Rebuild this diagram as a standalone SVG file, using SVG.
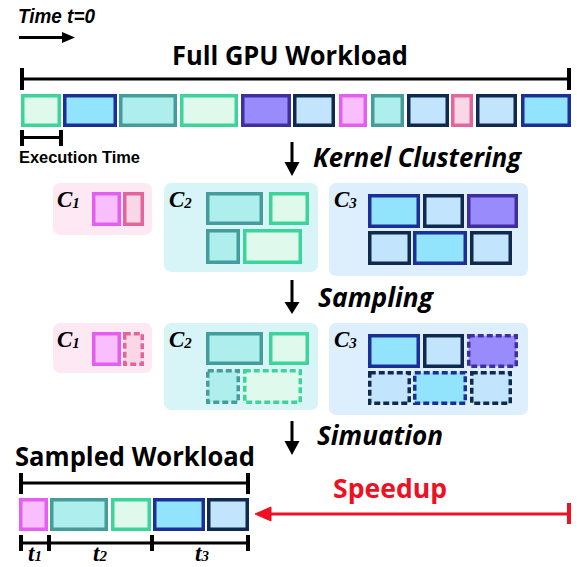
<svg xmlns="http://www.w3.org/2000/svg" width="577" height="567" viewBox="0 0 577 567">
  <defs>
    <style>
      .blk { stroke-width: 3.5; }
      .dash { stroke-dasharray: 6 3; }
      .g { fill: #dffaec; stroke: #3dd49b; }
      .n { fill: #92e4fd; stroke: #1b2f98; }
      .t { fill: #aeeeec; stroke: #449c9b; }
      .p { fill: #9a8bfc; stroke: #3f2f9e; }
      .d { fill: #c3e4fd; stroke: #10294e; }
      .m { fill: #f9befd; stroke: #e45ef0; }
      .k { fill: #f9d7e7; stroke: #e2659c; }
      .ln { stroke: #000; stroke-width: 3; fill: none; }
      .tk { stroke: #000; stroke-width: 4; }
      .title { font-family: "Open Sans", "Liberation Sans", sans-serif; font-weight: 700; font-size: 27px; fill: #000; }
      .step { font-family: "Open Sans", "Liberation Sans", sans-serif; font-weight: 700; font-style: italic; font-size: 26px; fill: #000; }
      .cond { font-family: "Liberation Sans", "Open Sans", sans-serif; font-weight: bold; fill: #000; }
      .cl { font-family: "Liberation Serif", "DejaVu Serif", serif; font-weight: bold; font-style: italic; font-size: 23px; fill: #000; }
      .sub { font-size: 15px; }
      .c1bg { fill: #fde8f3; }
      .c2bg { fill: #d7f5f6; }
      .c3bg { fill: #ddeffd; }
      .red { stroke: #ee1023; fill: #ee1023; }
    </style>
  </defs>

  <!-- time direction -->
  <g id="time-axis">
    <text class="cond" x="18" y="23" font-size="20" font-style="italic" textLength="77" lengthAdjust="spacingAndGlyphs">Time t=0</text>
    <line class="ln" x1="19" y1="37.5" x2="64" y2="37.5"/>
    <polygon points="62,32 75,37.5 62,43" fill="#000"/>
  </g>

  <!-- full workload -->
  <g id="full-workload">
    <text class="title" x="172" y="65" textLength="236" lengthAdjust="spacingAndGlyphs">Full GPU Workload</text>
    <line class="ln" x1="21" y1="79" x2="569" y2="79"/>
    <line class="tk" x1="22" y1="68" x2="22" y2="90"/>
    <line class="tk" x1="569" y1="68" x2="569" y2="90"/>
    <rect class="blk g" x="22.75" y="95.75" width="36.5" height="29.5"/>
    <rect class="blk n" x="64.75" y="95.75" width="50.5" height="29.5"/>
    <rect class="blk t" x="120.75" y="95.75" width="54.5" height="29.5"/>
    <rect class="blk g" x="181.75" y="95.75" width="54.5" height="29.5"/>
    <rect class="blk p" x="242.75" y="95.75" width="46.5" height="29.5"/>
    <rect class="blk d" x="294.75" y="95.75" width="38.5" height="29.5"/>
    <rect class="blk m" x="340.75" y="95.75" width="24.5" height="29.5"/>
    <rect class="blk t" x="372.75" y="95.75" width="29.5" height="29.5"/>
    <rect class="blk d" x="408.75" y="95.75" width="38.5" height="29.5"/>
    <rect class="blk k" x="452.75" y="95.75" width="18.5" height="29.5"/>
    <rect class="blk d" x="477.75" y="95.75" width="37.5" height="29.5"/>
    <rect class="blk n" x="522.75" y="95.75" width="46.5" height="29.5"/>
  </g>

  <g id="execution-time">
    <line class="ln" x1="21" y1="137.5" x2="62" y2="137.5"/>
    <line class="tk" x1="22" y1="130" x2="22" y2="146"/>
    <line class="tk" x1="61" y1="130" x2="61" y2="146"/>
    <text class="cond" x="19" y="163" font-size="16" textLength="121" lengthAdjust="spacingAndGlyphs">Execution Time</text>
  </g>

  <!-- step arrows -->
  <g id="connectors">
    <line class="ln" x1="292" y1="142" x2="292" y2="164"/>
    <polygon points="284.5,162 299.5,162 292,176" fill="#000"/>
    <line class="ln" x1="292" y1="280" x2="292" y2="304"/>
    <polygon points="284.5,302 299.5,302 292,314" fill="#000"/>
    <line class="ln" x1="292" y1="421" x2="292" y2="443"/>
    <polygon points="284.5,441 299.5,441 292,455" fill="#000"/>
  </g>
  <text class="step" x="313" y="167" textLength="208" lengthAdjust="spacingAndGlyphs">Kernel Clustering</text>
  <text class="step" x="318" y="307" textLength="115" lengthAdjust="spacingAndGlyphs">Sampling</text>
  <text class="step" x="317" y="445" textLength="126" lengthAdjust="spacingAndGlyphs">Simuation</text>

  <!-- clusters -->
  <g id="cluster-c1">
    <rect class="c1bg" x="53" y="183" width="99" height="52" rx="7"/>
    <text class="cl" x="57" y="207">C<tspan class="sub" dy="1">1</tspan></text>
    <rect class="blk m" x="93.75" y="193.75" width="25.5" height="30.5"/>
    <rect class="blk k" x="124.75" y="193.75" width="17.5" height="30.5"/>
  </g>
  <g id="cluster-c2">
    <rect class="c2bg" x="164" y="183" width="154" height="89" rx="7"/>
    <text class="cl" x="169" y="207">C<tspan class="sub" dy="1">2</tspan></text>
    <rect class="blk t" x="207.75" y="193.75" width="53.5" height="29.5"/>
    <rect class="blk g" x="270.75" y="193.75" width="36.5" height="29.5"/>
    <rect class="blk t" x="207.75" y="230.75" width="30.5" height="31.5"/>
    <rect class="blk g" x="244.75" y="230.75" width="55.5" height="31.5"/>
  </g>
  <g id="cluster-c3">
    <rect class="c3bg" x="329" y="183" width="199" height="93" rx="7"/>
    <text class="cl" x="334" y="207">C<tspan class="sub" dy="1">3</tspan></text>
    <rect class="blk n" x="369.75" y="195.75" width="48.5" height="30.5"/>
    <rect class="blk d" x="424.75" y="195.75" width="37.5" height="30.5"/>
    <rect class="blk p" x="468.75" y="195.75" width="47.5" height="30.5"/>
    <rect class="blk d" x="369.75" y="232.75" width="39.5" height="30.5"/>
    <rect class="blk n" x="414.75" y="232.75" width="50.5" height="30.5"/>
    <rect class="blk d" x="471.75" y="232.75" width="38.5" height="30.5"/>
  </g>

  <!-- sampled clusters (dashed = skipped) -->
  <g id="sampled-c1" transform="translate(0,140)">
    <rect class="c1bg" x="53" y="183" width="99" height="50" rx="7"/>
    <text class="cl" x="57" y="207">C<tspan class="sub" dy="1">1</tspan></text>
    <rect class="blk m" x="93.75" y="193.75" width="25.5" height="30.5"/>
    <rect class="blk k dash" x="124.75" y="193.75" width="17.5" height="30.5"/>
  </g>
  <g id="sampled-c2" transform="translate(0,140)">
    <rect class="c2bg" x="164" y="183" width="154" height="87" rx="7"/>
    <text class="cl" x="169" y="207">C<tspan class="sub" dy="1">2</tspan></text>
    <rect class="blk t" x="207.75" y="193.75" width="53.5" height="29.5"/>
    <rect class="blk g" x="270.75" y="193.75" width="36.5" height="29.5"/>
    <rect class="blk t dash" x="207.75" y="230.75" width="30.5" height="31.5"/>
    <rect class="blk g dash" x="244.75" y="230.75" width="55.5" height="31.5"/>
  </g>
  <g id="sampled-c3" transform="translate(0,140)">
    <rect class="c3bg" x="329" y="183" width="199" height="92" rx="7"/>
    <text class="cl" x="334" y="207">C<tspan class="sub" dy="1">3</tspan></text>
    <rect class="blk n" x="369.75" y="195.75" width="48.5" height="30.5"/>
    <rect class="blk d" x="424.75" y="195.75" width="37.5" height="30.5"/>
    <rect class="blk p dash" x="468.75" y="195.75" width="47.5" height="30.5"/>
    <rect class="blk d dash" x="369.75" y="232.75" width="39.5" height="30.5"/>
    <rect class="blk n dash" x="414.75" y="232.75" width="50.5" height="30.5"/>
    <rect class="blk d dash" x="471.75" y="232.75" width="38.5" height="30.5"/>
  </g>

  <!-- sampled workload -->
  <g id="sampled-workload">
    <text class="title" x="15" y="466" textLength="240" lengthAdjust="spacingAndGlyphs">Sampled Workload</text>
    <line class="ln" x1="21" y1="483" x2="248" y2="483"/>
    <line class="tk" x1="21" y1="473" x2="21" y2="494"/>
    <line class="tk" x1="248" y1="473" x2="248" y2="494"/>
    <rect class="blk m" x="20.75" y="499.75" width="25.5" height="29.5"/>
    <rect class="blk t" x="51.75" y="499.75" width="54.5" height="29.5"/>
    <rect class="blk g" x="112.75" y="499.75" width="36.5" height="29.5"/>
    <rect class="blk n" x="154.75" y="499.75" width="48.5" height="29.5"/>
    <rect class="blk d" x="208.75" y="499.75" width="38.5" height="29.5"/>
  </g>

  <g id="sample-times">
    <line class="ln" x1="21" y1="543" x2="248" y2="543"/>
    <line class="tk" x1="21" y1="535" x2="21" y2="551"/>
    <line class="tk" x1="49" y1="535" x2="49" y2="551"/>
    <line class="tk" x1="152" y1="535" x2="152" y2="551"/>
    <line class="tk" x1="248" y1="535" x2="248" y2="551"/>
    <text class="cl" x="28" y="561" font-size="22">t<tspan class="sub">1</tspan></text>
    <text class="cl" x="93" y="561" font-size="22">t<tspan class="sub">2</tspan></text>
    <text class="cl" x="195" y="561" font-size="22">t<tspan class="sub">3</tspan></text>
  </g>

  <!-- speedup -->
  <g id="speedup">
    <text class="title" x="333" y="498" style="fill:#ee1023" font-size="25" textLength="114" lengthAdjust="spacingAndGlyphs">Speedup</text>
    <line class="red" x1="268" y1="514" x2="569" y2="514" stroke-width="3"/>
    <line class="red" x1="569" y1="503" x2="569" y2="524" stroke-width="4"/>
    <polygon class="red" points="255,514 271,507 271,521" stroke="none"/>
  </g>
</svg>
